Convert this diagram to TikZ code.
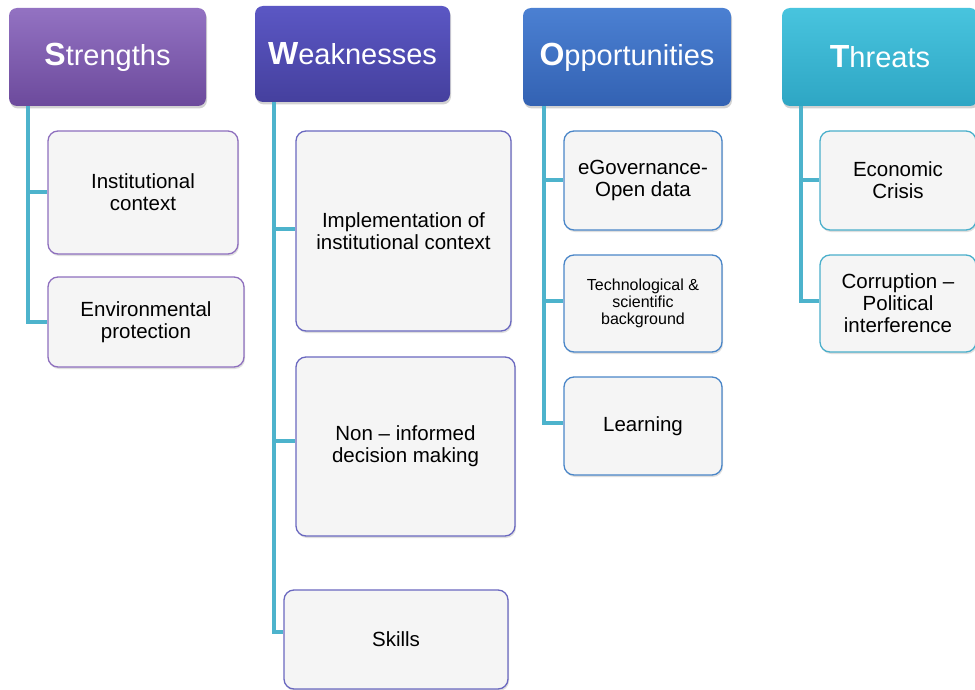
\documentclass[tikz,border=0pt]{standalone}
\usepackage{fontspec}
\setmainfont{Liberation Sans}
\usetikzlibrary{shadows}
\definecolor{cS1}{HTML}{9372C2}\definecolor{cS2}{HTML}{6C4A9C}
\definecolor{cW1}{HTML}{5B57C4}\definecolor{cW2}{HTML}{45409E}
\definecolor{cO1}{HTML}{4B80D2}\definecolor{cO2}{HTML}{3362B3}
\definecolor{cT1}{HTML}{48C4DE}\definecolor{cT2}{HTML}{2EA6C4}
\definecolor{bS}{HTML}{8E6FBE}\definecolor{bW}{HTML}{6A68C0}
\definecolor{bO}{HTML}{4A86C8}\definecolor{bT}{HTML}{4AAFCB}
\definecolor{conn}{HTML}{4DB3CC}\definecolor{boxfill}{HTML}{F5F5F5}
\tikzset{
  header/.style={rounded corners=8pt, text=white, align=center,
    font=\fontsize{29}{32}\selectfont,
    drop shadow={opacity=0.35, shadow xshift=1pt, shadow yshift=-2.5pt}},
  itembox/.style={rounded corners=10pt, fill=boxfill, line width=1.3pt, align=center,
    font=\fontsize{20.5}{22}\selectfont,
    drop shadow={opacity=0.25, shadow xshift=1pt, shadow yshift=-2pt}},
  connline/.style={draw=conn, line width=4pt},
}
\newcommand{\ini}[1]{{\fontsize{32}{32}\selectfont\bfseries #1}}
\newcommand{\htext}[2]{\raisebox{-2.5pt}{\ini{#1}#2}}
\begin{document}
\begin{tikzpicture}[x=1pt,y=-1pt]
\useasboundingbox (0,0) rectangle (975,690);
\clip (0,0) rectangle (975,690);
\fill[white] (0,0) rectangle (975,690);
% headers
\node[header, top color=cS1, bottom color=cS2, minimum width=197pt, minimum height=98pt] (hS) at (107.5,57) {\htext{S}{trengths}};
\node[header, top color=cW1, bottom color=cW2, minimum width=195pt, minimum height=96pt] (hW) at (352.5,54) {\htext{W}{eaknesses}};
\node[header, top color=cO1, bottom color=cO2, minimum width=208pt, minimum height=98pt] (hO) at (627,57) {\htext{O}{pportunities}};
\node[header, top color=cT1, bottom color=cT2, minimum width=196pt, minimum height=98pt] (hT) at (880,57) {\htext{T}{hreats}};
% anchor coordinates for the trunks
\coordinate (sA) at (28,106);
\coordinate (wA) at (274,102);
\coordinate (oA) at (544,106);
\coordinate (tA) at (801,106);
% items
\node[itembox, draw=bS, minimum width=190pt, minimum height=123pt] (s1) at (143,192.5) {Institutional\\context};
\node[itembox, draw=bS, minimum width=196pt, minimum height=90pt] (s2) at (146,322) {Environmental\\protection};
\node[itembox, draw=bW, minimum width=215pt, minimum height=200pt] (w1) at (403.5,231) {Implementation of\\institutional context};
\node[itembox, draw=bW, minimum width=219pt, minimum height=179pt] (w2) at (405.5,446.5) {Non -- informed\\decision making};
\node[itembox, draw=bW, minimum width=224pt, minimum height=99pt] (w3) at (396,639.5) {Skills};
\node[itembox, draw=bO, minimum width=158pt, minimum height=99pt] (o1) at (643,180.5) {eGovernance-\\Open data};
\node[itembox, draw=bO, minimum width=158pt, minimum height=97pt, font=\fontsize{16}{17}\selectfont] (o2) at (643,303.5) {Technological \&\\scientific\\background};
\node[itembox, draw=bO, minimum width=158pt, minimum height=98pt] (o3) at (643,426) {Learning};
\node[itembox, draw=bT, minimum width=156pt, minimum height=99pt] (t1) at (898,180.5) {Economic\\Crisis};
\node[itembox, draw=bT, minimum width=156pt, minimum height=97pt] (t2) at (898,303.5) {Corruption --\\Political\\interference};
% connectors
\draw[connline] (sA) |- (s1.west);
\draw[connline] (sA) |- (s2.west);
\draw[connline] (wA) |- ([yshift=2pt]w1.west);
\draw[connline] (wA) |- ([yshift=6pt]w2.west);
\draw[connline] (wA) |- ([yshift=7.5pt]w3.west);
\draw[connline] (oA) |- (o1.west);
\draw[connline] (oA) |- ([yshift=3pt]o2.west);
\draw[connline] (oA) |- ([yshift=3pt]o3.west);
\draw[connline] (tA) |- (t1.west);
\draw[connline] (tA) |- ([yshift=3pt]t2.west);
\end{tikzpicture}
\end{document}
